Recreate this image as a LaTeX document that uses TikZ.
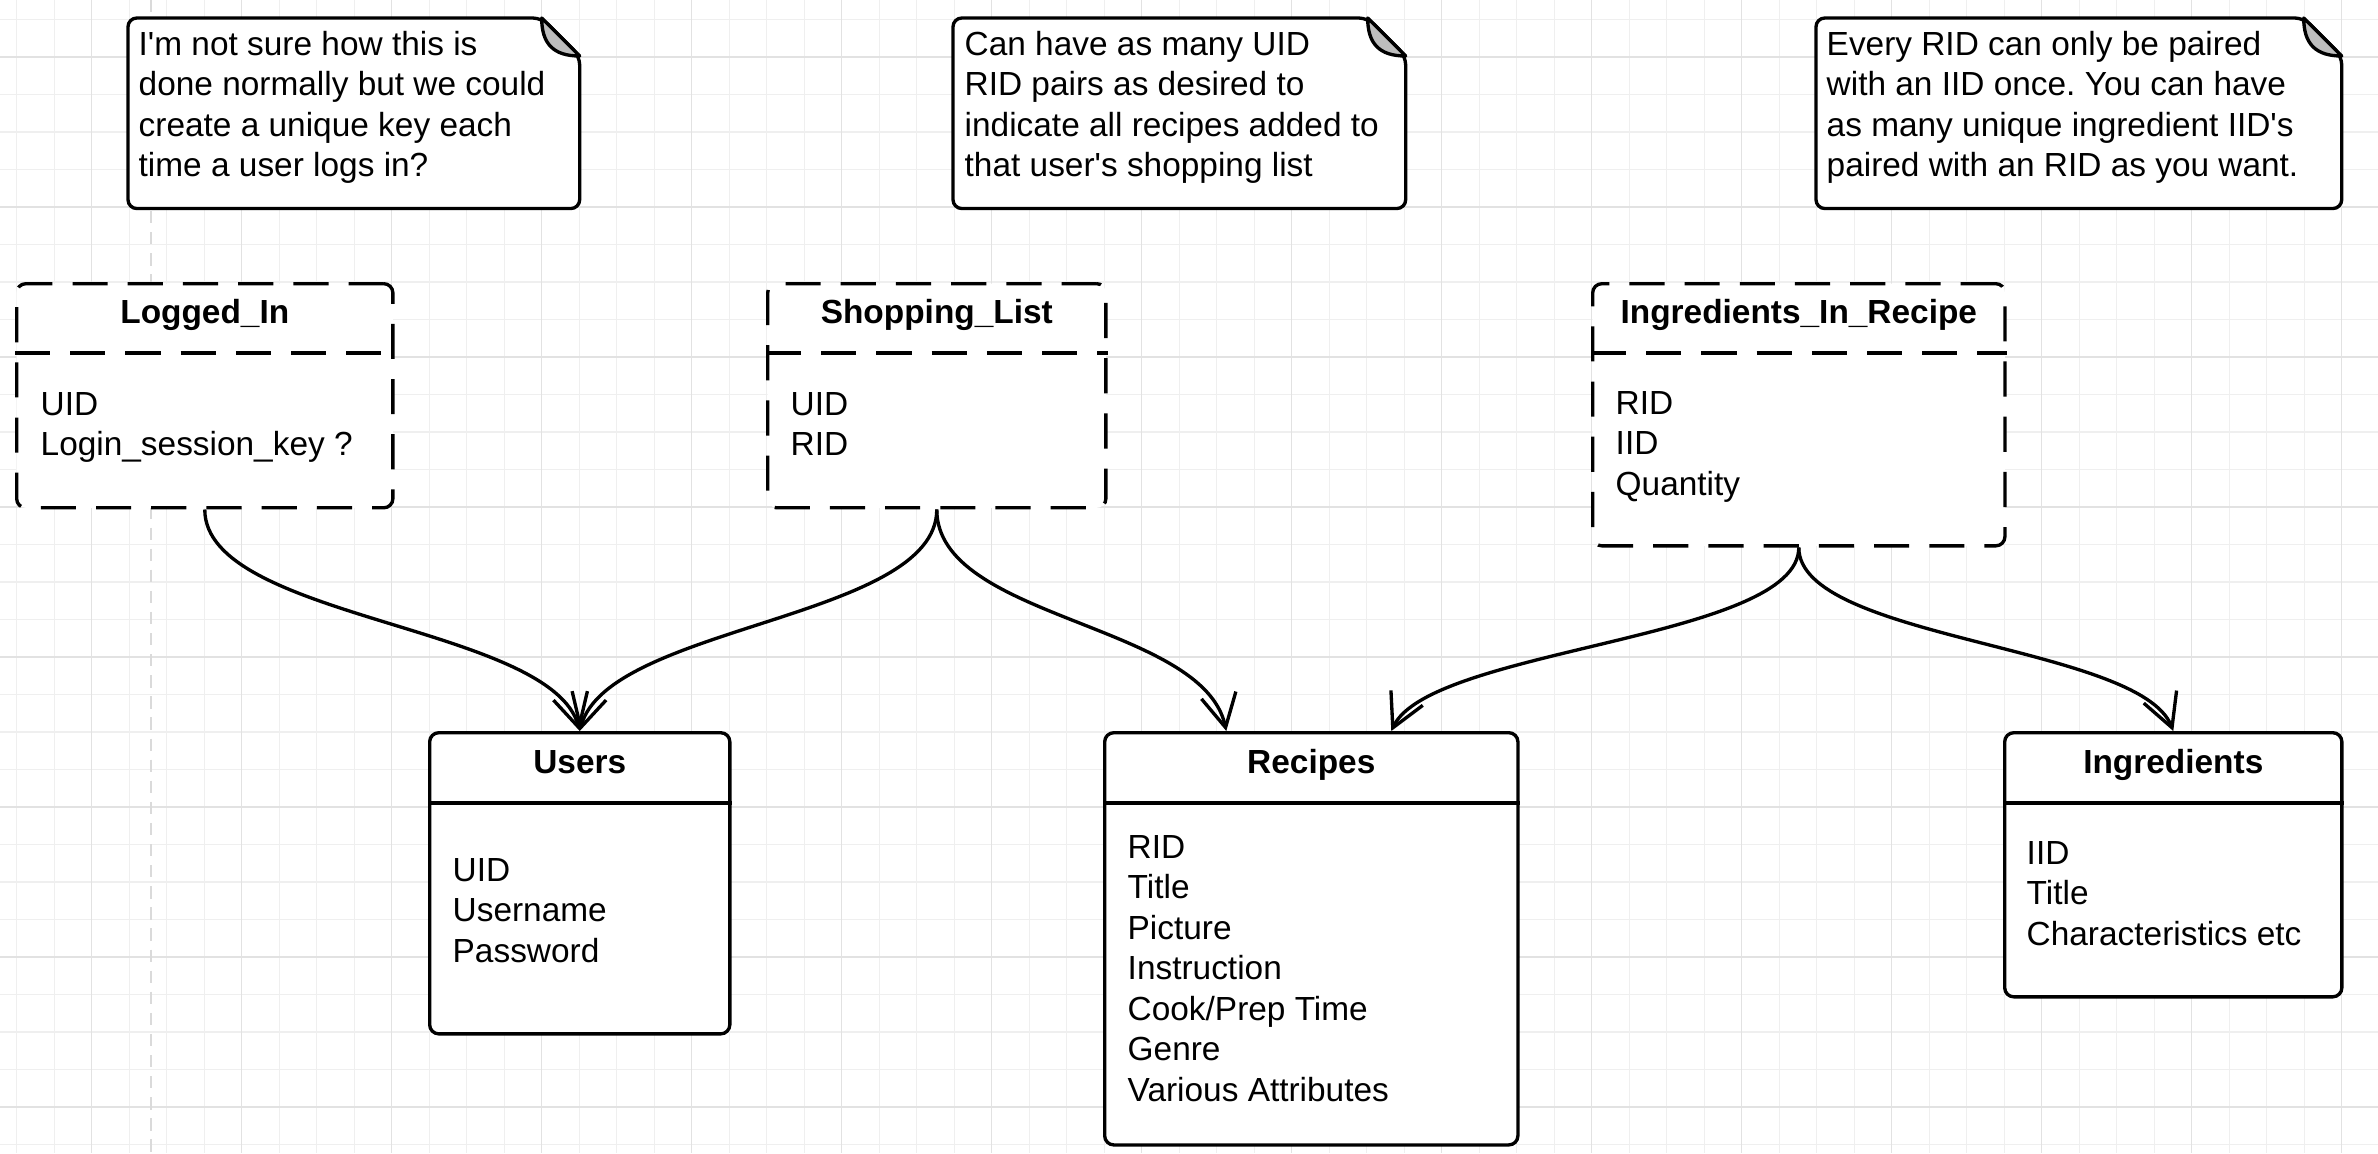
\documentclass[tikz,border=0pt]{standalone}
\usepackage{fontspec}
\setmainfont{Liberation Sans}
\usepackage{tikz}
\usetikzlibrary{arrows.meta}
\definecolor{grid-minor}{HTML}{EFEFEF}
\definecolor{grid-major}{HTML}{E2E2E2}
\definecolor{guide-grey}{HTML}{DADADA}
\definecolor{fold-grey}{HTML}{BDBDBD}
\tikzset{
    entity-box/.style = {draw=black, fill=white, line width=0.95pt, rectangle, rounded corners=2.6pt, inner sep=0pt, anchor=north west},
    weak-entity-box/.style = {entity-box, dash pattern=on 10pt off 5.7pt},
    entity-title/.style = {font=\bfseries, anchor=base, inner sep=0pt},
    entity-fields/.style = {align=left, anchor=base west, inner sep=0pt},
    divider/.style = {line width=0.95pt},
    weak-divider/.style = {divider, dash pattern=on 10pt off 5.7pt},
    note-box/.style = {rectangle, inner sep=0pt, anchor=north west},
    note-edge/.style = {draw=black, fill=white, line width=0.95pt, rounded corners=2.5pt},
    note-fold/.style = {draw=black, fill=fold-grey, line width=0.95pt, line join=round},
    note-text/.style = {align=left, anchor=base west, inner sep=0pt},
    crow-link/.style = {line width=0.95pt, -{Straight Barb[length=9.4pt, width=10pt]}},
}

\begin{document}
\frenchspacing
\fontsize{9.5pt}{11.5pt}\selectfont
\begin{tikzpicture}[x=0.01cm, y=-0.01cm]
\useasboundingbox (0,0) rectangle (2378,1153);
\fill[white] (0,0) rectangle (2378,1153);

% background grid
\foreach \i in {0,...,63} \draw[grid-minor, line width=0.35pt] (16.7+37.5*\i,0) -- ++(0,1153);
\foreach \i in {0,...,30} \draw[grid-minor, line width=0.35pt] (0,19.5+37.5*\i) -- ++(2378,0);
\foreach \i in {0,...,15} \draw[grid-major, line width=0.35pt] (91.7+150*\i,0) -- ++(0,1153);
\foreach \i in {0,...,7} \draw[grid-major, line width=0.35pt] (0,57+150*\i) -- ++(2378,0);
\draw[guide-grey, line width=0.8pt, dash pattern=on 3.5pt off 2.5pt] (151,0) -- (151,1153);

% notes (text anchored on the baseline of its last line)
\node[note-box, minimum width=4.5cm, minimum height=1.89cm] (note-login) at (128,18) {};
\draw[note-edge] ([shift={(-38,0)}]note-login.north east) -- (note-login.north west) -- (note-login.south west) -- (note-login.south east) -- ([shift={(0,38)}]note-login.north east) -- cycle;
\draw[note-fold] ([shift={(-38,0)}]note-login.north east) .. controls +(0,26) and +(-26,0) .. ([shift={(0,38)}]note-login.north east) -- cycle;
\node[note-text] (note-login-text) at ([shift={(10,158.5)}]note-login.north west) {I\textquotesingle m not sure how this is\\done normally but we could\\create a unique key each\\time a user logs in?};

\node[note-box, minimum width=4.51cm, minimum height=1.89cm] (note-shopping) at (953,18) {};
\draw[note-edge] ([shift={(-38,0)}]note-shopping.north east) -- (note-shopping.north west) -- (note-shopping.south west) -- (note-shopping.south east) -- ([shift={(0,38)}]note-shopping.north east) -- cycle;
\draw[note-fold] ([shift={(-38,0)}]note-shopping.north east) .. controls +(0,26) and +(-26,0) .. ([shift={(0,38)}]note-shopping.north east) -- cycle;
\node[note-text] (note-shopping-text) at ([shift={(11,158.5)}]note-shopping.north west) {Can have as many UID\\RID pairs as desired to\\indicate all recipes added to\\that user\textquotesingle s shopping list};

\node[note-box, minimum width=5.24cm, minimum height=1.89cm] (note-recipe) at (1816,18) {};
\draw[note-edge] ([shift={(-38,0)}]note-recipe.north east) -- (note-recipe.north west) -- (note-recipe.south west) -- (note-recipe.south east) -- ([shift={(0,38)}]note-recipe.north east) -- cycle;
\draw[note-fold] ([shift={(-38,0)}]note-recipe.north east) .. controls +(0,26) and +(-26,0) .. ([shift={(0,38)}]note-recipe.north east) -- cycle;
\node[note-text] (note-recipe-text) at ([shift={(10,158.5)}]note-recipe.north west) {Every RID can only be paired\\with an IID once. You can have\\as many unique ingredient IID\textquotesingle s\\paired with an RID as you want.};

% link tables
\node[weak-entity-box, minimum width=3.76cm, minimum height=2.24cm] (logged-in) at (15,282) {};
\draw[weak-divider] ([shift={(0,71)}]logged-in.north west) -- ([shift={(0,71)}]logged-in.north east);
\node[entity-title] (logged-in-title) at ([shift={(0,41)}]logged-in.north) {Logged\_In};
\node[entity-fields] (logged-in-fields) at ([shift={(25,173.5)}]logged-in.north west) {UID\\Login\_session\_key ?};

\node[weak-entity-box, minimum width=3.38cm, minimum height=2.24cm] (shopping-list) at (766,282) {};
\draw[weak-divider] ([shift={(0,71)}]shopping-list.north west) -- ([shift={(0,71)}]shopping-list.north east);
\node[entity-title] (shopping-list-title) at ([shift={(0,41)}]shopping-list.north) {Shopping\_List};
\node[entity-fields] (shopping-list-fields) at ([shift={(24,173.5)}]shopping-list.north west) {UID\\RID};

\node[weak-entity-box, minimum width=4.12cm, minimum height=2.62cm] (ingredients-in-recipe) at (1591,282) {};
\draw[weak-divider] ([shift={(0,71)}]ingredients-in-recipe.north west) -- ([shift={(0,71)}]ingredients-in-recipe.north east);
\node[entity-title] (ingredients-in-recipe-title) at ([shift={(0,41)}]ingredients-in-recipe.north) {Ingredients\_In\_Recipe};
\node[entity-fields] (ingredients-in-recipe-fields) at ([shift={(24,213)}]ingredients-in-recipe.north west) {RID\\IID\\Quantity};

% main tables
\node[entity-box, minimum width=3.0cm, minimum height=3.01cm] (users) at (428,731) {};
\draw[divider] ([shift={(0,72)}]users.north west) -- ([shift={(0,72)}]users.north east);
\node[entity-title] (users-title) at ([shift={(0,42)}]users.north) {Users};
\node[entity-fields] (users-fields) at ([shift={(24,231)}]users.north west) {UID\\Username\\Password};

\node[entity-box, minimum width=4.13cm, minimum height=4.12cm] (recipes) at (1103,731) {};
\draw[divider] ([shift={(0,72)}]recipes.north west) -- ([shift={(0,72)}]recipes.north east);
\node[entity-title] (recipes-title) at ([shift={(0,42)}]recipes.north) {Recipes};
\node[entity-fields] (recipes-fields) at ([shift={(24,370)}]recipes.north west) {RID\\Title\\Picture\\Instruction\\Cook/Prep Time\\Genre\\Various Attributes};

\node[entity-box, minimum width=3.37cm, minimum height=2.64cm] (ingredients) at (2003,731) {};
\draw[divider] ([shift={(0,72)}]ingredients.north west) -- ([shift={(0,72)}]ingredients.north east);
\node[entity-title] (ingredients-title) at ([shift={(0,42)}]ingredients.north) {Ingredients};
\node[entity-fields] (ingredients-fields) at ([shift={(23,214)}]ingredients.north west) {IID\\Title\\Characteristics etc};

% relations
\draw[crow-link] (logged-in.south) .. controls +(0,110) and +(-28,-106) .. (users.north);
\draw[crow-link] (shopping-list.south) .. controls +(0,110) and +(28,-106) .. (users.north);
\draw[crow-link] (shopping-list.south) .. controls +(0,110) and +(-23,-108) .. ([shift={(-85,0)}]recipes.north);
\draw[crow-link] (ingredients-in-recipe.south) .. controls +(0,92) and +(39,-83) .. ([shift={(80,0)}]recipes.north);
\draw[crow-link] (ingredients-in-recipe.south) .. controls +(0,92) and +(-33,-86) .. (ingredients.north);
\end{tikzpicture}
\end{document}
